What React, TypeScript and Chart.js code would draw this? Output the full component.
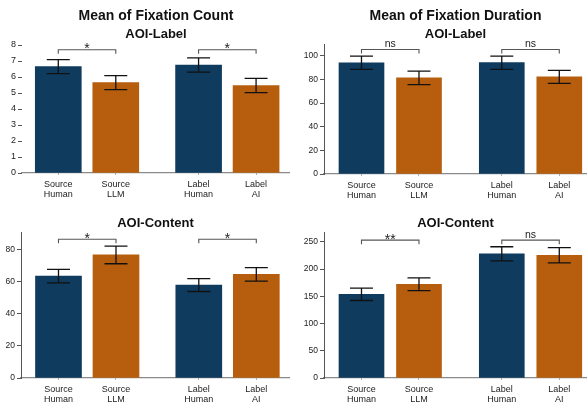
import React, { useEffect, useRef } from "react";
import { Chart, registerables } from "chart.js";

Chart.register(...registerables);

// ---------- data ----------
const categories = [
  ["Source", "Human"],
  ["Source", "LLM"],
  ["Label", "Human"],
  ["Label", "AI"],
];
const positions = [0, 1, 2.44, 3.44];
const barColors = ["#0e3b5e", "#b75e0e", "#0e3b5e", "#b75e0e"];

const countLabelMean = [6.65, 5.65, 6.75, 5.47];
const countLabelErr = [0.44, 0.44, 0.45, 0.45];
const countLabelTicks = [0, 1, 2, 3, 4, 5, 6, 7, 8];
const countLabelSig = ["*", "*"];
const countLabelSigY = [7.7, 7.7];

const durLabelMean = [94.1, 81.4, 94.2, 82.2];
const durLabelErr = [5.6, 5.7, 5.6, 5.5];
const durLabelTicks = [0, 20, 40, 60, 80, 100];
const durLabelSig = ["ns", "ns"];
const durLabelSigY = [105.4, 105.4];

const countContentMean = [63.5, 76.7, 57.9, 64.6];
const countContentErr = [4.2, 5.5, 4.0, 4.2];
const countContentTicks = [0, 20, 40, 60, 80];
const countContentSig = ["*", "*"];
const countContentSigY = [86.5, 86.5];

const durContentMean = [153.7, 172, 228, 225.4];
const durContentErr = [11.4, 11.7, 12.9, 14];
const durContentTicks = [0, 50, 100, 150, 200, 250];
const durContentSig = ["**", "ns"];
const durContentSigY = [253, 253];

const sigPairs = [
  [0, 1],
  [2, 3],
];

const FONT = "'Liberation Sans', Arial, Helvetica, sans-serif";

type Panel = {
  left: number;
  top: number;
  width: number;
  height: number;
  title?: string;
  subtitle: string;
  titleY: number;
  subtitleY: number;
  mean: number[];
  err: number[];
  ticks: number[];
  yMax: number;
  sig: string[];
  sigY: number[];
  padTop: number;
  yW: number;
  xH: number;
  xMin: number;
  xMax: number;
  barW: number;
  yBorder: boolean;
  yFont: number;
};

const panels: Panel[] = [
  {
    left: 0, top: 0, width: 290, height: 200,
    title: "Mean of Fixation Count", subtitle: "AOI-Label", titleY: 16.5, subtitleY: 34,
    mean: countLabelMean, err: countLabelErr, ticks: countLabelTicks, yMax: 8,
    sig: countLabelSig, sigY: countLabelSigY,
    padTop: 45, yW: 22, xH: 27, xMin: -0.631, xMax: 4.03, barW: 46, yBorder: false, yFont: 9,
  },
  {
    left: 290, top: 0, width: 297, height: 200,
    title: "Mean of Fixation Duration", subtitle: "AOI-Label", titleY: 16.5, subtitleY: 34,
    mean: durLabelMean, err: durLabelErr, ticks: durLabelTicks, yMax: 110,
    sig: durLabelSig, sigY: durLabelSigY,
    padTop: 44, yW: 34, xH: 26, xMin: -0.652, xMax: 3.922, barW: 45, yBorder: true, yFont: 8.5,
  },
  {
    left: 0, top: 200, width: 290, height: 203,
    subtitle: "AOI-Content", titleY: 0, subtitleY: 23,
    mean: countContentMean, err: countContentErr, ticks: countContentTicks, yMax: 91,
    sig: countContentSig, sigY: countContentSigY,
    padTop: 32, yW: 21, xH: 25, xMin: -0.652, xMax: 4.026, barW: 46, yBorder: true, yFont: 8.5,
  },
  {
    left: 290, top: 200, width: 297, height: 203,
    subtitle: "AOI-Content", titleY: 0, subtitleY: 23,
    mean: durContentMean, err: durContentErr, ticks: durContentTicks, yMax: 268,
    sig: durContentSig, sigY: durContentSigY,
    padTop: 32, yW: 34, xH: 25, xMin: -0.652, xMax: 3.922, barW: 45, yBorder: true, yFont: 8.5,
  },
];

function ChartPanel({ p }: { p: Panel }) {
  const ref = useRef<HTMLCanvasElement | null>(null);
  useEffect(() => {
    if (!ref.current) return;
    const overlay = {
      id: "overlay",
      afterDatasetsDraw(chart: any) {
        const ctx = chart.ctx;
        const xs = chart.scales.x;
        const ys = chart.scales.y;
        ctx.save();
        // error bars
        ctx.strokeStyle = "#111";
        ctx.lineWidth = 1.3;
        p.mean.forEach((m, i) => {
          const x = xs.getPixelForValue(positions[i]);
          const y1 = ys.getPixelForValue(m + p.err[i]);
          const y2 = ys.getPixelForValue(m - p.err[i]);
          ctx.beginPath();
          ctx.moveTo(x, y1);
          ctx.lineTo(x, y2);
          ctx.moveTo(x - 11.5, y1);
          ctx.lineTo(x + 11.5, y1);
          ctx.moveTo(x - 11.5, y2);
          ctx.lineTo(x + 11.5, y2);
          ctx.stroke();
        });
        // significance brackets
        sigPairs.forEach((pair, k) => {
          const xa = xs.getPixelForValue(positions[pair[0]]);
          const xb = xs.getPixelForValue(positions[pair[1]]);
          const y = ys.getPixelForValue(p.sigY[k]);
          ctx.strokeStyle = "#555";
          ctx.lineWidth = 1.1;
          ctx.beginPath();
          ctx.moveTo(xa, y + 4);
          ctx.lineTo(xa, y);
          ctx.lineTo(xb, y);
          ctx.lineTo(xb, y + 4);
          ctx.stroke();
          const label = p.sig[k];
          ctx.fillStyle = "#222";
          ctx.textAlign = "center";
          ctx.textBaseline = "alphabetic";
          if (label === "ns") {
            ctx.font = `10.5px ${FONT}`;
            ctx.fillText(label, (xa + xb) / 2, y - 2.6);
          } else {
            ctx.font = `14px ${FONT}`;
            ctx.fillText(label, (xa + xb) / 2, y + 3.5);
          }
        });
        // titles
        const cx = (chart.chartArea.left + chart.chartArea.right) / 2;
        ctx.fillStyle = "#111";
        ctx.textAlign = "center";
        ctx.textBaseline = "middle";
        if (p.title) {
          ctx.font = `bold 14px ${FONT}`;
          ctx.fillText(p.title, cx, p.titleY);
        }
        ctx.font = `bold 13px ${FONT}`;
        ctx.fillText(p.subtitle, cx, p.subtitleY);
        ctx.restore();
      },
    };

    const chart = new Chart(ref.current, {
      type: "bar",
      data: {
        datasets: [
          {
            data: p.mean.map((m, i) => ({ x: positions[i], y: m })),
            backgroundColor: barColors,
            borderWidth: 0,
            barThickness: p.barW,
          } as any,
        ],
      },
      options: {
        animation: false,
        responsive: false,
        devicePixelRatio: 1,
        layout: { padding: { top: p.padTop, left: 0, right: 0, bottom: 0 } },
        plugins: { legend: { display: false }, tooltip: { enabled: false }, title: { display: false } },
        scales: {
          x: {
            type: "linear",
            min: p.xMin,
            max: p.xMax,
            offset: false,
            afterBuildTicks: (axis: any) => {
              axis.ticks = positions.map((v) => ({ value: v }));
            },
            afterFit: (axis: any) => {
              axis.height = p.xH;
            },
            grid: { display: true, offset: false, drawOnChartArea: false, drawTicks: true, tickLength: 2, color: "#aaa" },
            border: { display: true, color: "#8a8a8a", width: 1.2 },
            ticks: {
              autoSkip: false,
              maxRotation: 0,
              padding: 4,
              color: "#222",
              font: { family: FONT, size: 9, lineHeight: 1.15 },
              callback: (_v: any, i: number) => categories[i],
            },
          },
          y: {
            type: "linear",
            min: 0,
            max: p.yMax,
            afterBuildTicks: (axis: any) => {
              axis.ticks = p.ticks.map((v) => ({ value: v }));
            },
            afterFit: (axis: any) => {
              axis.width = p.yW;
            },
            grid: { display: true, offset: false, drawOnChartArea: false, drawTicks: true, tickLength: 4, color: "#555" },
            border: { display: p.yBorder, color: "#555", width: 1 },
            ticks: {
              padding: 2,
              color: "#222",
              font: { family: FONT, size: p.yFont },
            },
          },
        },
      } as any,
      plugins: [overlay],
    });
    return () => chart.destroy();
  }, [p]);

  return (
    <canvas
      ref={ref}
      width={p.width}
      height={p.height}
      style={{ position: "absolute", left: p.left, top: p.top, width: p.width, height: p.height, display: "block" }}
    />
  );
}

export default function App() {
  return (
    <div style={{ position: "fixed", left: 0, top: 0, width: 587, height: 403, background: "#fff", overflow: "hidden" }}>
      {panels.map((p, i) => (
        <ChartPanel key={i} p={p} />
      ))}
    </div>
  );
}
